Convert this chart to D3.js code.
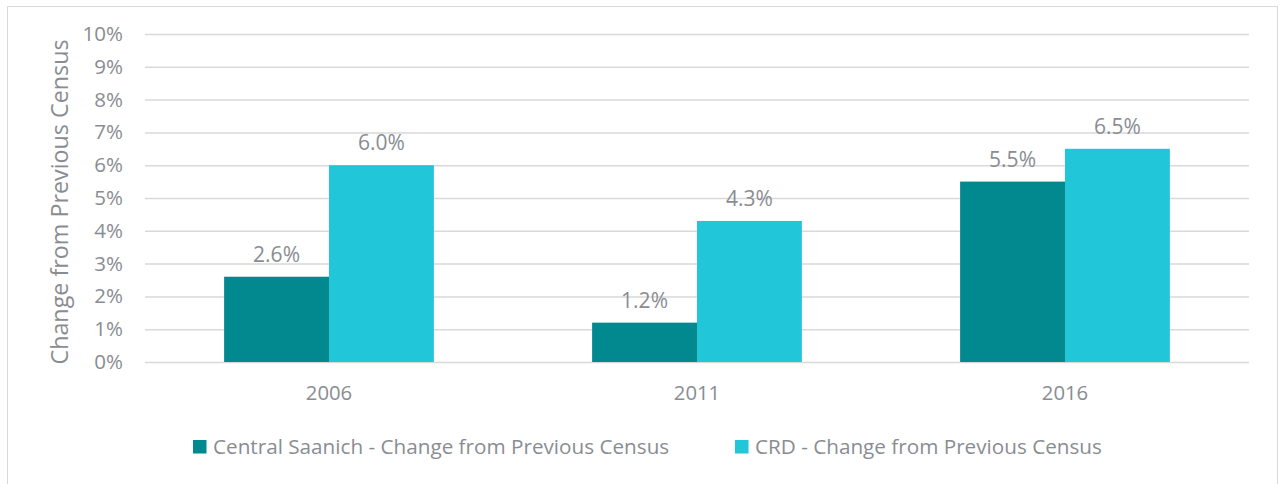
<!DOCTYPE html>
<html><head><meta charset="utf-8">
<script src="https://cdn.jsdelivr.net/npm/d3@7"></script>
<style>body{margin:0;background:#fff;} text{font-family:"Open Sans",sans-serif;fill:#898d92;}</style>
</head><body>
<svg id="c" width="1282" height="484"></svg>
<script>
const categories = ["2006", "2011", "2016"];
const seriesNames = ["Central Saanich - Change from Previous Census", "CRD - Change from Previous Census"];
const centralSaanich = [2.6, 1.2, 5.5];
const crd = [6.0, 4.3, 6.5];
const yTicks = [0,1,2,3,4,5,6,7,8,9,10];
const colors = ["#028990", "#21c6d9"];

const svg = d3.select("#c");
svg.append("rect").attr("x",7.5).attr("y",6.5).attr("width",1270).attr("height",500)
  .attr("fill","#fff").attr("stroke","#d9d9d9").attr("stroke-width",1);

const x0 = d3.scaleBand().domain(categories).range([145,1249]).paddingInner(0.43).paddingOuter(0.215);
const x1 = d3.scaleBand().domain([0,1]).range([0,x0.bandwidth()]);
const y = d3.scaleLinear().domain([0,10]).range([362,34]);

const yAxis = svg.append("g").attr("transform","translate(145,0)")
  .call(d3.axisLeft(y).tickValues(yTicks).tickSize(-1104).tickFormat(d=>d+"%").tickPadding(22));
yAxis.select(".domain").remove();
yAxis.selectAll("line").attr("stroke","#d9d9d9").attr("stroke-width",1.5);
yAxis.selectAll("text").attr("font-size",20.5).style("fill","#898d92");

const series = [centralSaanich, crd];
const g = svg.append("g");
categories.forEach((c,i)=>{
  series.forEach((s,j)=>{
    g.append("rect").attr("x",x0(c)+x1(j)).attr("y",y(s[i]))
      .attr("width",x1.bandwidth()).attr("height",y(0)-y(s[i])).attr("fill",colors[j]);
    g.append("text").attr("x",x0(c)+x1(j)+x1.bandwidth()/2).attr("y",y(s[i])-15)
      .attr("text-anchor","middle").attr("font-size",21).text(s[i].toFixed(1)+"%");
  });
});

const xAxis = svg.append("g").attr("transform","translate(0,362)")
  .call(d3.axisBottom(x0).tickSize(0).tickPadding(24));
xAxis.select(".domain").remove();
xAxis.selectAll("text").attr("font-size",20.3).style("fill","#898d92");

svg.append("text").attr("transform","translate(68,202) rotate(-90)")
  .attr("text-anchor","middle").attr("font-size",23.3).text("Change from Previous Census");

const legX = [193, 735];
seriesNames.forEach((n,j)=>{
  svg.append("rect").attr("x",legX[j]).attr("y",440).attr("width",13.5).attr("height",13.5).attr("fill",colors[j]);
  svg.append("text").attr("x",legX[j]+20).attr("y",454).attr("font-size",20.7).text(n);
});
</script>
</body></html>
